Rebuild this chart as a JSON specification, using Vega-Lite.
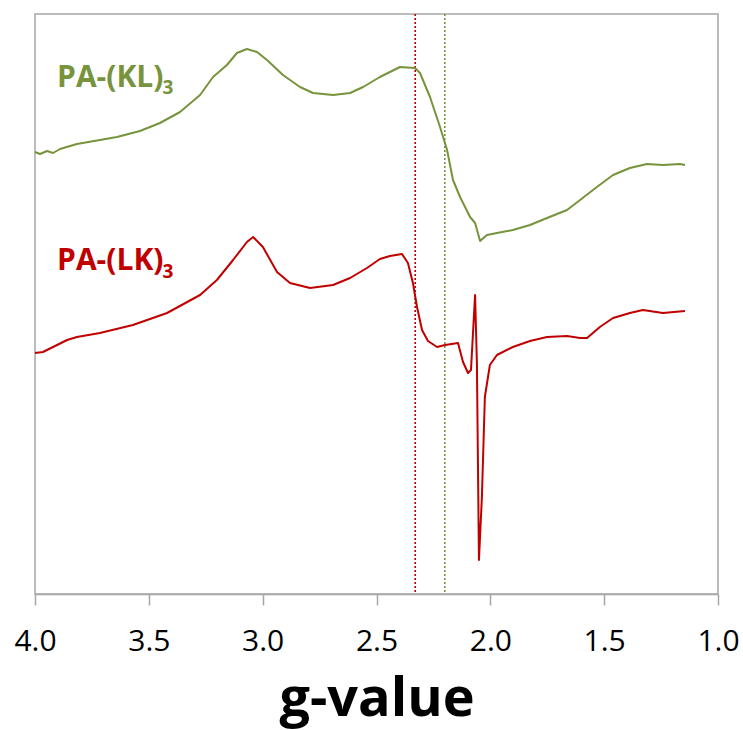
{
  "$schema": "https://vega.github.io/schema/vega-lite/v6.json",
  "width": 683,
  "height": 580,
  "autosize": {"type": "none"},
  "padding": {"left": 35, "top": 14, "right": 25, "bottom": 136},
  "background": "white",
  "config": {
    "view": {"stroke": "#A6A6A6", "strokeWidth": 1.5},
    "font": "Open Sans"
  },
  "datasets": {
    "spectra": [
      {"s": "KL", "g": 4.000, "v": 442}, {"s": "KL", "g": 3.978, "v": 440}, {"s": "KL", "g": 3.947, "v": 443},
      {"s": "KL", "g": 3.921, "v": 441}, {"s": "KL", "g": 3.890, "v": 445}, {"s": "KL", "g": 3.816, "v": 450},
      {"s": "KL", "g": 3.715, "v": 454}, {"s": "KL", "g": 3.640, "v": 457}, {"s": "KL", "g": 3.539, "v": 463},
      {"s": "KL", "g": 3.451, "v": 471}, {"s": "KL", "g": 3.363, "v": 482}, {"s": "KL", "g": 3.275, "v": 499},
      {"s": "KL", "g": 3.218, "v": 517}, {"s": "KL", "g": 3.157, "v": 529}, {"s": "KL", "g": 3.113, "v": 541},
      {"s": "KL", "g": 3.069, "v": 545}, {"s": "KL", "g": 3.025, "v": 542}, {"s": "KL", "g": 2.981, "v": 534},
      {"s": "KL", "g": 2.911, "v": 519}, {"s": "KL", "g": 2.836, "v": 507}, {"s": "KL", "g": 2.779, "v": 501},
      {"s": "KL", "g": 2.691, "v": 499}, {"s": "KL", "g": 2.616, "v": 501}, {"s": "KL", "g": 2.559, "v": 507},
      {"s": "KL", "g": 2.485, "v": 517}, {"s": "KL", "g": 2.397, "v": 527}, {"s": "KL", "g": 2.331, "v": 526},
      {"s": "KL", "g": 2.309, "v": 521}, {"s": "KL", "g": 2.265, "v": 497}, {"s": "KL", "g": 2.221, "v": 467},
      {"s": "KL", "g": 2.190, "v": 444}, {"s": "KL", "g": 2.164, "v": 414}, {"s": "KL", "g": 2.133, "v": 397},
      {"s": "KL", "g": 2.089, "v": 377}, {"s": "KL", "g": 2.067, "v": 371}, {"s": "KL", "g": 2.045, "v": 353},
      {"s": "KL", "g": 2.015, "v": 359}, {"s": "KL", "g": 1.971, "v": 361}, {"s": "KL", "g": 1.901, "v": 364},
      {"s": "KL", "g": 1.826, "v": 369}, {"s": "KL", "g": 1.751, "v": 376}, {"s": "KL", "g": 1.663, "v": 384},
      {"s": "KL", "g": 1.606, "v": 394}, {"s": "KL", "g": 1.532, "v": 407}, {"s": "KL", "g": 1.461, "v": 419},
      {"s": "KL", "g": 1.387, "v": 426}, {"s": "KL", "g": 1.312, "v": 430}, {"s": "KL", "g": 1.242, "v": 429},
      {"s": "KL", "g": 1.167, "v": 430}, {"s": "KL", "g": 1.145, "v": 429},
      {"s": "LK", "g": 4.000, "v": 241}, {"s": "LK", "g": 3.965, "v": 242}, {"s": "LK", "g": 3.859, "v": 254},
      {"s": "LK", "g": 3.816, "v": 257}, {"s": "LK", "g": 3.715, "v": 261}, {"s": "LK", "g": 3.570, "v": 269},
      {"s": "LK", "g": 3.420, "v": 281}, {"s": "LK", "g": 3.275, "v": 299}, {"s": "LK", "g": 3.201, "v": 314},
      {"s": "LK", "g": 3.130, "v": 334}, {"s": "LK", "g": 3.069, "v": 352}, {"s": "LK", "g": 3.042, "v": 357},
      {"s": "LK", "g": 2.999, "v": 347}, {"s": "LK", "g": 2.937, "v": 322}, {"s": "LK", "g": 2.880, "v": 311},
      {"s": "LK", "g": 2.792, "v": 306}, {"s": "LK", "g": 2.691, "v": 309}, {"s": "LK", "g": 2.616, "v": 316},
      {"s": "LK", "g": 2.542, "v": 326}, {"s": "LK", "g": 2.485, "v": 335}, {"s": "LK", "g": 2.441, "v": 338},
      {"s": "LK", "g": 2.388, "v": 340}, {"s": "LK", "g": 2.362, "v": 331}, {"s": "LK", "g": 2.340, "v": 311},
      {"s": "LK", "g": 2.322, "v": 287}, {"s": "LK", "g": 2.300, "v": 264}, {"s": "LK", "g": 2.274, "v": 253},
      {"s": "LK", "g": 2.234, "v": 247}, {"s": "LK", "g": 2.199, "v": 249}, {"s": "LK", "g": 2.142, "v": 251},
      {"s": "LK", "g": 2.120, "v": 232}, {"s": "LK", "g": 2.098, "v": 221}, {"s": "LK", "g": 2.085, "v": 224},
      {"s": "LK", "g": 2.067, "v": 299}, {"s": "LK", "g": 2.059, "v": 231}, {"s": "LK", "g": 2.050, "v": 34},
      {"s": "LK", "g": 2.037, "v": 97}, {"s": "LK", "g": 2.024, "v": 197}, {"s": "LK", "g": 2.002, "v": 229},
      {"s": "LK", "g": 1.971, "v": 239}, {"s": "LK", "g": 1.901, "v": 247}, {"s": "LK", "g": 1.826, "v": 253},
      {"s": "LK", "g": 1.751, "v": 257}, {"s": "LK", "g": 1.663, "v": 258}, {"s": "LK", "g": 1.606, "v": 256},
      {"s": "LK", "g": 1.575, "v": 256}, {"s": "LK", "g": 1.519, "v": 267}, {"s": "LK", "g": 1.461, "v": 276},
      {"s": "LK", "g": 1.387, "v": 281}, {"s": "LK", "g": 1.330, "v": 284}, {"s": "LK", "g": 1.242, "v": 281},
      {"s": "LK", "g": 1.145, "v": 283}
    ],
    "markers": [
      {"s": "LK", "g": 2.33},
      {"s": "KL", "g": 2.20}
    ],
    "labels": [
      {"s": "KL", "g": 3.903, "v": 507, "t": "PA-(KL)"},
      {"s": "LK", "g": 3.903, "v": 324, "t": "PA-(LK)"}
    ],
    "subs": [
      {"s": "KL", "g": 3.440, "v": 500, "t": "3"},
      {"s": "LK", "g": 3.440, "v": 316, "t": "3"}
    ]
  },
  "encoding": {
    "x": {
      "field": "g", "type": "quantitative",
      "scale": {"domain": [4, 1], "nice": false, "zero": false},
      "axis": {
        "title": "g-value",
        "values": [4, 3.5, 3, 2.5, 2, 1.5, 1],
        "format": ".1f",
        "grid": false,
        "domainColor": "#A6A6A6", "domainWidth": 1.5,
        "tickColor": "#A6A6A6", "tickWidth": 1.5, "tickSize": 11,
        "labelFont": "Open Sans", "labelFontSize": 30, "labelColor": "#000000",
        "labelPadding": 21, "labelFlush": false, "labelOverlap": false,
        "titleFont": "Open Sans", "titleFontSize": 54, "titleFontWeight": "bold",
        "titleColor": "#000000", "titlePadding": 16
      }
    },
    "color": {
      "field": "s", "type": "nominal",
      "scale": {"domain": ["KL", "LK"], "range": ["#77933C", "#C00000"]},
      "legend": null
    }
  },
  "layer": [
    {
      "data": {"name": "markers"},
      "mark": {"type": "rule", "strokeDash": [2, 2], "strokeWidth": 1.6}
    },
    {
      "data": {"name": "spectra"},
      "mark": {"type": "line", "strokeWidth": 2, "strokeJoin": "round"},
      "encoding": {
        "y": {"field": "v", "type": "quantitative", "scale": {"domain": [0, 580], "nice": false, "zero": false}, "axis": null}
      }
    },
    {
      "data": {"name": "labels"},
      "mark": {"type": "text", "align": "left", "baseline": "alphabetic", "font": "Open Sans", "fontWeight": "bold", "fontSize": 30},
      "encoding": {
        "y": {"field": "v", "type": "quantitative", "scale": {"domain": [0, 580], "nice": false, "zero": false}, "axis": null},
        "text": {"field": "t"}
      }
    },
    {
      "data": {"name": "subs"},
      "mark": {"type": "text", "align": "left", "baseline": "alphabetic", "font": "Open Sans", "fontWeight": "bold", "fontSize": 19},
      "encoding": {
        "y": {"field": "v", "type": "quantitative", "scale": {"domain": [0, 580], "nice": false, "zero": false}, "axis": null},
        "text": {"field": "t"}
      }
    }
  ]
}
